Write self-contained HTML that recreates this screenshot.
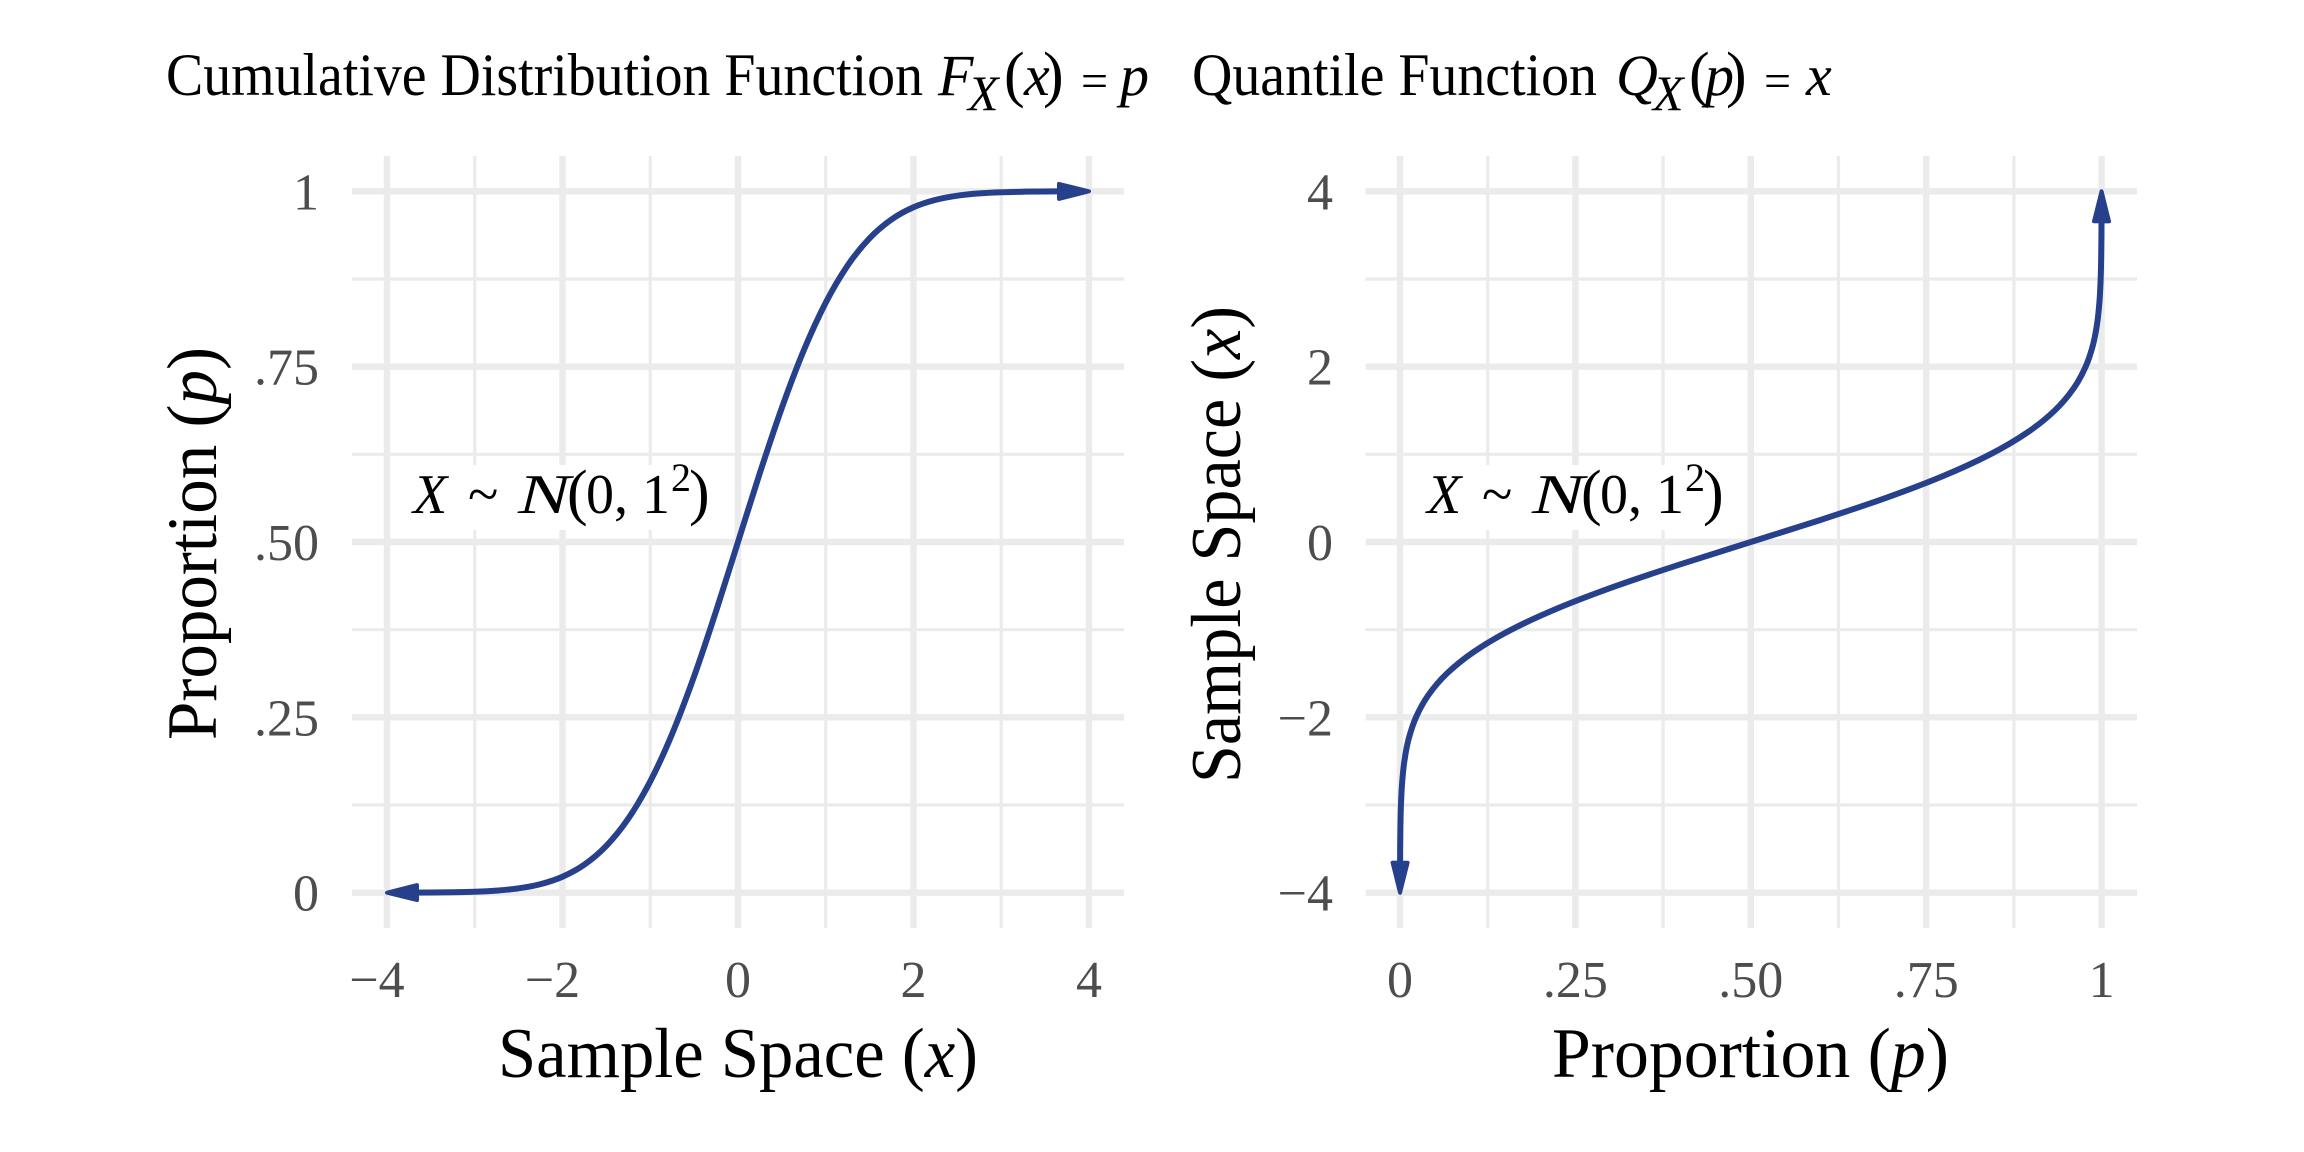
<!DOCTYPE html>
<html lang="en">
<head>
<meta charset="utf-8">
<title>CDF and Quantile Function</title>
<style>
html,body{margin:0;padding:0;background:#fff;}
svg{display:block;}
text{font-family:"Liberation Serif",serif;}
.i{font-style:italic;}
</style>
</head>
<body>
<svg id="chart" xmlns="http://www.w3.org/2000/svg" width="2304" height="1152" viewBox="0 0 2304 1152">
  <rect x="0" y="0" width="2304" height="1152" fill="#fff"/>
  <g id="left-panel"></g>
  <g id="right-panel"></g>

  <text x="166" y="95" font-size="60" fill="#000" textLength="757" lengthAdjust="spacingAndGlyphs">Cumulative Distribution Function</text>
  <text y="95" font-size="58" fill="#000"><tspan class="i" x="938">F</tspan><tspan class="i" x="968" y="110" font-size="50">X</tspan><tspan x="1004" y="95" font-size="62">(</tspan><tspan class="i" x="1024">x</tspan><tspan x="1043" font-size="62">)</tspan><tspan x="1081" y="97" font-size="48">=</tspan><tspan class="i" x="1120" y="95">p</tspan></text>

  <text x="1192" y="95" font-size="60" fill="#000" textLength="405" lengthAdjust="spacingAndGlyphs">Quantile Function</text>
  <text y="95" font-size="58" fill="#000"><tspan class="i" x="1616">Q</tspan><tspan class="i" x="1653" y="110" font-size="50">X</tspan><tspan x="1689" y="95" font-size="62">(</tspan><tspan class="i" x="1705">p</tspan><tspan x="1726" font-size="62">)</tspan><tspan x="1764" y="97" font-size="48">=</tspan><tspan class="i" x="1806" y="95">x</tspan></text>

  <text x="498" y="1077" font-size="71" fill="#000" textLength="480" lengthAdjust="spacingAndGlyphs">Sample Space (<tspan class="i">x</tspan>)</text>
  <text x="1552" y="1077" font-size="71" fill="#000" textLength="397" lengthAdjust="spacingAndGlyphs">Proportion (<tspan class="i">p</tspan>)</text>
  <text transform="translate(216 740) rotate(-90)" font-size="71" fill="#000" textLength="393" lengthAdjust="spacingAndGlyphs">Proportion (<tspan class="i">p</tspan>)</text>
  <text transform="translate(1240 783) rotate(-90)" font-size="71" fill="#000" textLength="477" lengthAdjust="spacingAndGlyphs">Sample Space (<tspan class="i">x</tspan>)</text>

  <rect x="402" y="465" width="322" height="65" fill="#fff"/>
  <text y="513" font-size="56" fill="#000"><tspan class="i" x="413">X</tspan><tspan x="468">~</tspan><tspan x="567" font-size="62">(</tspan><tspan x="586">0, 1</tspan><tspan x="671" y="491" font-size="40">2</tspan><tspan x="689" y="513" font-size="62">)</tspan></text>
  <text class="i" transform="translate(518 513) scale(1.4 1)" font-size="56" fill="#000">N</text>

  <rect x="1416" y="465" width="322" height="65" fill="#fff"/>
  <text y="513" font-size="56" fill="#000"><tspan class="i" x="1427">X</tspan><tspan x="1482">~</tspan><tspan x="1581" font-size="62">(</tspan><tspan x="1600">0, 1</tspan><tspan x="1685" y="491" font-size="40">2</tspan><tspan x="1703" y="513" font-size="62">)</tspan></text>
  <text class="i" transform="translate(1532 513) scale(1.4 1)" font-size="56" fill="#000">N</text>
</svg>

<script>
// ---- CDF panel data (sample space x, proportion p) ----
const cdfX = [-4,-3.75,-3.5,-3.25,-3,-2.75,-2.5,-2.25,-2,-1.75,-1.5,-1.25,-1,-0.75,-0.5,-0.25,0,0.25,0.5,0.75,1,1.25,1.5,1.75,2,2.25,2.5,2.75,3,3.25,3.5,3.75,4];
const cdfP = [0.00003,0.00009,0.00023,0.00058,0.00135,0.00298,0.00621,0.01222,0.02275,0.04006,0.06681,0.10565,0.15866,0.22663,0.30854,0.40129,0.5,0.59871,0.69146,0.77337,0.84134,0.89435,0.93319,0.95994,0.97725,0.98778,0.99379,0.99702,0.99865,0.99942,0.99977,0.99991,0.99997];

// ---- Quantile panel data (proportion p, sample space x) ----
const quantileP = [0.00003,0.00009,0.00023,0.00058,0.00135,0.00298,0.00621,0.01222,0.02275,0.04006,0.06681,0.10565,0.15866,0.22663,0.30854,0.40129,0.5,0.59871,0.69146,0.77337,0.84134,0.89435,0.93319,0.95994,0.97725,0.98778,0.99379,0.99702,0.99865,0.99942,0.99977,0.99991,0.99997];
const quantileX = [-4,-3.75,-3.5,-3.25,-3,-2.75,-2.5,-2.25,-2,-1.75,-1.5,-1.25,-1,-0.75,-0.5,-0.25,0,0.25,0.5,0.75,1,1.25,1.5,1.75,2,2.25,2.5,2.75,3,3.25,3.5,3.75,4];

// ---- Axis breaks and tick labels ----
const sampleTicks = [-4,-2,0,2,4];
const sampleLabels = ['\u22124','\u22122','0','2','4'];
const sampleMinor = [-3,-1,1,3];
const propTicks = [0,0.25,0.5,0.75,1];
const propLabels = ['0','.25','.50','.75','1'];
const propMinor = [0.125,0.375,0.625,0.875];

const NS = 'http://www.w3.org/2000/svg';
const CURVE = '#27408b', GRID = '#ebebeb', TICK = '#4d4d4d';

function linear(d0, d1, r0, r1) { return v => r0 + (v - d0) / (d1 - d0) * (r1 - r0); }

const Y_TOP = 191.3, Y_BOTTOM = 892.7, GRID_TOP = 156, GRID_BOTTOM = 928;

// axis functions
const cdfXScale = linear(-4, 4, 387, 1089);
const cdfYScale = linear(0, 1, Y_BOTTOM, Y_TOP);
const quantileXScale = linear(0, 1, 1400, 2101.6);
const quantileYScale = linear(-4, 4, Y_BOTTOM, Y_TOP);

function make(parent, tag, attrs) {
  const el = document.createElementNS(NS, tag);
  for (const k in attrs) el.setAttribute(k, attrs[k]);
  parent.appendChild(el);
  return el;
}

function vLine(parent, x, w) {
  const el = make(parent, 'line', {x1: x, x2: x, y1: GRID_TOP, y2: GRID_BOTTOM, stroke: GRID, 'stroke-width': w});
  
  
}
function hLine(parent, y, w, x0, x1) {
  const el = make(parent, 'line', {x1: x0, x2: x1, y1: y, y2: y, stroke: GRID, 'stroke-width': w});
  
  
}
function tickText(parent, x, y, label, anchor) {
  const el = make(parent, 'text', {x: x, y: y, 'font-size': 52, fill: TICK, 'text-anchor': anchor});
  el.textContent = label;
  
  
}

// smooth curve through data points (Catmull-Rom to cubic Bezier)
function curvePath(pts) {
  let d = 'M' + pts[0][0].toFixed(2) + ' ' + pts[0][1].toFixed(2);
  for (let i = 0; i < pts.length - 1; i++) {
    const p0 = pts[Math.max(i - 1, 0)], p1 = pts[i], p2 = pts[i + 1], p3 = pts[Math.min(i + 2, pts.length - 1)];
    const c1x = p1[0] + (p2[0] - p0[0]) / 6, c1y = p1[1] + (p2[1] - p0[1]) / 6;
    const c2x = p2[0] - (p3[0] - p1[0]) / 6, c2y = p2[1] - (p3[1] - p1[1]) / 6;
    d += 'C' + c1x.toFixed(2) + ' ' + c1y.toFixed(2) + ' ' + c2x.toFixed(2) + ' ' + c2y.toFixed(2) + ' ' + p2[0].toFixed(2) + ' ' + p2[1].toFixed(2);
  }
  return d;
}

function arrowhead(parent, tip, from) {
  const LEN = 30, HALF = 7.5;
  const dx = tip.x - from.x, dy = tip.y - from.y, n = Math.hypot(dx, dy) || 1;
  const ux = dx / n, uy = dy / n;
  const bx = tip.x - ux * LEN, by = tip.y - uy * LEN;
  const pts = [[tip.x, tip.y], [bx - uy * HALF, by + ux * HALF], [bx + uy * HALF, by - ux * HALF]];
  const el = make(parent, 'polygon', {points: pts.map(p => p[0].toFixed(2) + ',' + p[1].toFixed(2)).join(' '), fill: CURVE, stroke: CURVE, 'stroke-width': 4, 'stroke-linejoin': 'round'});
  
  
}

function drawCurve(parent, pts, name) {
  const path = make(parent, 'path', {d: curvePath(pts), fill: 'none', stroke: CURVE, 'stroke-width': 6});
  
  
  const L = path.getTotalLength();
  const TRIM = 16;
  path.setAttribute('stroke-dasharray', '0 ' + TRIM + ' ' + (L - 2 * TRIM) + ' ' + TRIM);
  arrowhead(parent, path.getPointAtLength(0), path.getPointAtLength(30));
  arrowhead(parent, path.getPointAtLength(L), path.getPointAtLength(L - 30));
}

// ---- Left panel: CDF ----
(function () {
  const g = document.getElementById('left-panel');
  const x0 = 352, x1 = 1124;
  sampleMinor.forEach(v => vLine(g, cdfXScale(v), 3.2));
  propMinor.forEach(v => hLine(g, cdfYScale(v), 3.2, x0, x1));
  sampleTicks.forEach(v => vLine(g, cdfXScale(v), 6.4));
  propTicks.forEach(v => hLine(g, cdfYScale(v), 6.4, x0, x1));
  sampleTicks.forEach((v, i) => tickText(g, cdfXScale(v) + (v < 0 ? -10 : 0), 997, sampleLabels[i], 'middle'));
  propTicks.forEach((v, i) => tickText(g, 319, cdfYScale(v) + 18, propLabels[i], 'end'));
  drawCurve(g, cdfX.map((v, i) => [cdfXScale(v), cdfYScale(cdfP[i])]), 'cdf-curve');
})();

// ---- Right panel: quantile function ----
(function () {
  const g = document.getElementById('right-panel');
  const x0 = 1365.6, x1 = 2137;
  propMinor.forEach(v => vLine(g, quantileXScale(v), 3.2));
  sampleMinor.forEach(v => hLine(g, quantileYScale(v), 3.2, x0, x1));
  propTicks.forEach(v => vLine(g, quantileXScale(v), 6.4));
  sampleTicks.forEach(v => hLine(g, quantileYScale(v), 6.4, x0, x1));
  propTicks.forEach((v, i) => tickText(g, quantileXScale(v), 997, propLabels[i], 'middle'));
  sampleTicks.forEach((v, i) => tickText(g, 1333, quantileYScale(v) + 18, sampleLabels[i], 'end'));
  drawCurve(g, quantileP.map((v, i) => [quantileXScale(v), quantileYScale(quantileX[i])]), 'quantile-curve');
})();
</script>
</body>
</html>
